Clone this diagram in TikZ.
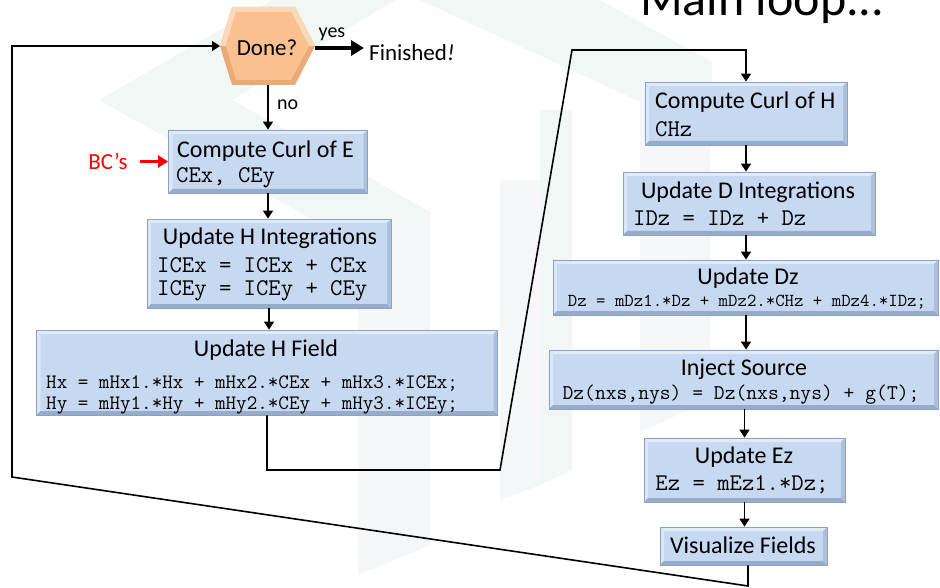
\documentclass[tikz,border=0pt]{standalone}
\usepackage{fontspec}
\setmainfont{Carlito}
\usetikzlibrary{arrows.meta,calc}

\definecolor{boxfill}{RGB}{198,217,241}
\definecolor{boxline}{RGB}{140,162,192}
\definecolor{bevlight}{RGB}{224,235,249}
\definecolor{bevdark}{RGB}{150,172,202}
\definecolor{bevmid}{RGB}{172,192,220}
\definecolor{hexfill}{RGB}{250,192,143}
\definecolor{hexdark}{RGB}{234,170,118}
\definecolor{hexlight}{RGB}{252,216,186}
\definecolor{wmgreen}{RGB}{241,247,244}
\definecolor{wmgray}{RGB}{245,246,247}
\definecolor{bcred}{RGB}{255,0,0}

\tikzset{
  box/.style={draw=boxline, line width=0.8pt, fill=boxfill, inner sep=0pt,
    path picture={
      \fill[bevlight] (path picture bounding box.north west) -- (path picture bounding box.north east)
        -- ([xshift=-4pt,yshift=-4pt]path picture bounding box.north east)
        -- ([xshift=4pt,yshift=-4pt]path picture bounding box.north west) -- cycle;
      \fill[bevlight!80!boxfill] (path picture bounding box.north west) -- (path picture bounding box.south west)
        -- ([xshift=4pt,yshift=4pt]path picture bounding box.south west)
        -- ([xshift=4pt,yshift=-4pt]path picture bounding box.north west) -- cycle;
      \fill[bevdark] (path picture bounding box.south west) -- (path picture bounding box.south east)
        -- ([xshift=-4pt,yshift=4pt]path picture bounding box.south east)
        -- ([xshift=4pt,yshift=4pt]path picture bounding box.south west) -- cycle;
      \fill[bevmid] (path picture bounding box.north east) -- (path picture bounding box.south east)
        -- ([xshift=-4pt,yshift=4pt]path picture bounding box.south east)
        -- ([xshift=-4pt,yshift=-4pt]path picture bounding box.north east) -- cycle;
    }},
  ttl/.style={font=\fontsize{24}{28}\selectfont, inner sep=0pt},
  code/.style={font=\ttfamily\fontsize{24}{27}\selectfont, inner sep=0pt},
  arr/.style={-{Triangle[length=8pt,width=10pt]}, line width=1.6pt},
  loopline/.style={line width=1.8pt},
  yesarr/.style={-{Triangle[length=13pt,width=15pt]}, line width=4.5pt},
  redarr/.style={-{Triangle[length=10pt,width=12pt]}, line width=2.6pt, draw=bcred, fill=bcred},
  lbl/.style={font=\fontsize{20}{24}\selectfont, inner sep=0pt},
}

\begin{document}
\begin{tikzpicture}[x=1pt,y=-1pt]
\useasboundingbox (0,0) rectangle (940,588);
\clip (0,0) rectangle (940,588);
\fill[white] (0,0) rectangle (940,588);

% faint watermark
\fill[wmgreen] (99,100) -- (272,0) -- (395,0) -- (232,100) -- (430,212) -- (430,285) -- cycle;
\fill[wmgreen] (420,0) -- (600,0) -- (712,62) -- (712,135) -- cycle;
\fill[wmgreen] (540,110) -- (572,110) -- (572,470) -- (540,485) -- cycle;
\fill[wmgray] (358,222) -- (430,222) -- (430,545) -- (358,575) -- cycle;
\fill[wmgray] (500,180) -- (540,180) -- (540,485) -- (500,500) -- cycle;
\fill[wmgray] (640,95) -- (710,95) -- (710,400) -- (640,432) -- cycle;

% title
\node[anchor=base west, inner sep=0pt, font=\fontsize{50}{56}\selectfont] (title) at (640,16) {Main loop...};

% Done? hexagon
\fill[hexdark] (220,46) -- (232,7) -- (295,7) -- (315,46) -- (295,85) -- (232,85) -- cycle;
\fill[hexlight] (220,46) -- (232,7) -- (295,7) -- (315,46) -- (309,46) -- (291,12) -- (236,12) -- (226,46) -- cycle;
\fill[hexfill] (226,46) -- (236,12) -- (291,12) -- (309,46) -- (291,80) -- (236,80) -- cycle;
\node[inner sep=0pt, font=\fontsize{23}{26}\selectfont] (done) at (267,48) {Done?};
\coordinate (doneW) at (220,46);
\coordinate (doneE) at (315,48);
\coordinate (doneS) at (268,85);

\node[lbl, anchor=base] (yes) at (332,38) {yes};
\coordinate (yesEnd) at (364,48);
\node[anchor=base west, inner sep=0pt, font=\fontsize{23}{26}\selectfont] (fin) at (369,61) {Finished\textit{!}};
\draw[yesarr] (doneE) -- (yesEnd);

\node[lbl, anchor=base west] (no) at (277,110) {no};

% left column boxes
\node[box, minimum width=199pt, minimum height=63pt] (ccE) at (268,161.5) {};
\node[box, minimum width=244pt, minimum height=89pt] (uHI) at (269,263.5) {};
\node[box, minimum width=461pt, minimum height=85pt] (uHF) at (267,372.5) {};

\node[ttl, anchor=west] (ccEt) at (177,151) {Compute Curl of E};
\node[code, anchor=west] (ccEc) at (176,178) {CEx, CEy};

\node[ttl] (uHIt) at (270,238) {Update H Integrations};
\node[code, anchor=west] (uHIc1) at (157,265) {ICEx = ICEx + CEx};
\node[code, anchor=west] (uHIc2) at (157,291) {ICEy = ICEy + CEy};

\node[ttl] (uHFt) at (266,350) {Update H Field};
\node[code, anchor=west, font=\ttfamily\fontsize{20.5}{23}\selectfont] (uHFc1) at (46,384) {Hx = mHx1.*Hx + mHx2.*CEx + mHx3.*ICEx;};
\node[code, anchor=west, font=\ttfamily\fontsize{20.5}{23}\selectfont] (uHFc2) at (46,405) {Hy = mHy1.*Hy + mHy2.*CEy + mHy3.*ICEy;};

% BC's
\node[font=\fontsize{23}{26}\selectfont, text=bcred, inner sep=0pt] (bcs) at (108,161.5) {BC’s};
\draw[redarr] ([xshift=12pt]bcs.east) -- (ccE.west);

% right column boxes
\node[box, minimum width=202pt, minimum height=63pt] (ccH) at (746,113.5) {};
\node[box, minimum width=252pt, minimum height=63pt] (uDI) at (749,203.5) {};
\node[box, minimum width=385pt, minimum height=55pt] (uDz) at (745.5,287.5) {};
\node[box, minimum width=389pt, minimum height=59pt] (inj) at (743.5,379.5) {};
\node[box, minimum width=201pt, minimum height=64pt] (uEz) at (744.5,470) {};
\node[box, minimum width=167pt, minimum height=38pt] (vis) at (743.5,546) {};

\node[ttl, anchor=west] (ccHt) at (655,102) {Compute Curl of H};
\node[code, anchor=west] (ccHc) at (655,129) {CHz};

\node[ttl] (uDIt) at (748,192) {Update D Integrations};
\node[code, anchor=west] (uDIc) at (633,218) {IDz = IDz + Dz};

\node[ttl] (uDzt) at (748,278) {Update Dz};
\node[code, font=\ttfamily\fontsize{18.3}{20}\selectfont] (uDzc) at (747,302) {Dz = mDz1.*Dz + mDz2.*CHz + mDz4.*IDz;};

\node[ttl] (injt) at (744,369) {Inject Source};
\node[code, font=\ttfamily\fontsize{21}{23}\selectfont] (injc) at (741,395) {Dz(nxs,nys) = Dz(nxs,nys) + g(T);};

\node[ttl] (uEzt) at (744,457) {Update Ez};
\node[code] (uEzc) at (742,485) {Ez = mEz1.*Dz;};

\node[ttl] (vist) at (743,545) {Visualize Fields};

% connectors
\draw[arr] (doneS) -- (ccE.north);
\draw[arr] (ccE.south) -- (ccE.south |- uHI.north);
\draw[arr] (uHI.south) -- (uHI.south |- uHF.north);

\coordinate (lB) at (500,470);
\coordinate (lC) at (572,50);
\draw[loopline, arr] (uHF.south) |- (lB) -- (lC) -| (ccH.north);

\draw[arr] (ccH.south) -- (ccH.south |- uDI.north);
\draw[arr] (ccH.south |- uDI.south) -- (ccH.south |- uDz.north);
\draw[arr] (ccH.south |- uDz.south) -- (ccH.south |- inj.north);
\draw[arr] (uEz.north |- inj.south) -- (uEz.north);
\draw[arr] (uEz.south) -- (uEz.south |- vis.north);

\coordinate (lE) at (748,586);
\coordinate (lF) at (12,477);
\coordinate (lG) at (12,46);
\draw[loopline, arr] (vis.south -| lE) -- (lE) -- (lF) -- (lG) -- (doneW);
\end{tikzpicture}
\end{document}
